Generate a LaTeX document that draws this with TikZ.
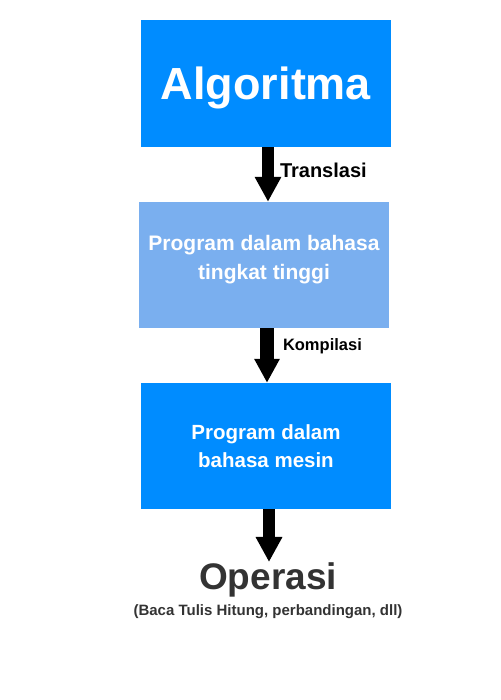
\documentclass[tikz,border=0pt]{standalone}
\usepackage{fontspec}
\setmainfont{Liberation Sans}
\usepackage{tikz}
\usetikzlibrary{positioning, arrows.meta, calc}
\definecolor{algblue}{HTML}{008CFF}
\definecolor{hllblue}{HTML}{7AAFEF}
\definecolor{opgray}{HTML}{333333}

\begin{document}
\begin{tikzpicture}[x=1pt, y=1pt,
    box/.style={rectangle, minimum width=250pt, minimum height=126pt,
        inner sep=0pt, text=white, align=center,
        font=\bfseries\fontsize{20.5}{28.5}\selectfont},
    flow/.style={line width=12pt, -{Triangle[width=25pt, length=25pt]}},
    lbl/.style={inner sep=0pt, font=\bfseries\fontsize{20}{22}\selectfont}]
    \useasboundingbox (0,0) rectangle (500,700);

    % boxes
    \node[box, fill=algblue, minimum height=127pt, text depth=0pt,
        font=\bfseries\fontsize{45}{50}\selectfont] (alg) at (266,616.5) {Algoritma};
    \node[box, fill=hllblue, font=\bfseries\fontsize{21}{29}\selectfont] (hll) at (264,435)
        {Program dalam bahasa\\tingkat tinggi\\[-13pt]\mbox{}};
    \node[box, fill=algblue] (mch) at (266,254) {Program dalam\\bahasa mesin};

    % result
    \node[inner sep=0pt, anchor=north, text=opgray,
        font=\bfseries\fontsize{37}{44}\selectfont] (op) at (268,138) {Operasi};
    \node[inner sep=0pt, text=opgray, below=8pt of op,
        font=\bfseries\fontsize{15}{18}\selectfont] (opnote)
        {(Baca Tulis Hitung, perbandingan, dll)};

    % arrows
    \draw[flow] ([xshift=2pt]alg.south) -- ([xshift=2pt]alg.south |- hll.north)
        node[lbl, right, pos=0.42, xshift=6pt] (trans) {Translasi};
    \draw[flow, line width=14pt, -{Triangle[width=24pt, length=24pt]}]
        ([xshift=3pt]hll.south) -- ([xshift=3pt]hll.south |- mch.north)
        node[lbl, right, pos=0.33, xshift=9pt,
            font=\bfseries\fontsize{16.5}{20}\selectfont] (komp) {Kompilasi};
    \draw[flow] ([xshift=3pt]mch.south) -- ([xshift=3pt]mch.south |- op.north);
\end{tikzpicture}
\end{document}
